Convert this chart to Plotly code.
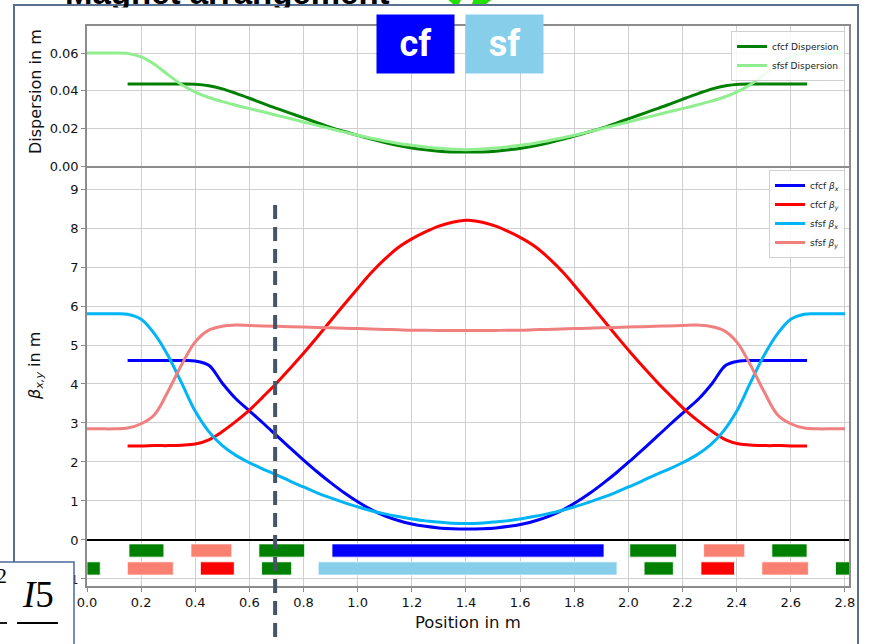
import plotly.graph_objects as go

# ---------------- data ----------------
pos_sf = [0.00, 0.05, 0.10, 0.15, 0.20, 0.25, 0.30, 0.35, 0.40, 0.45, 0.50, 0.55, 0.60, 0.65, 0.70,
          0.75, 0.80, 0.85, 0.90, 0.95, 1.00, 1.05, 1.10, 1.15, 1.20, 1.25, 1.30, 1.35, 1.40,
          1.45, 1.50, 1.55, 1.60, 1.65, 1.70, 1.75, 1.80, 1.85, 1.90, 1.95, 2.00, 2.05, 2.10,
          2.15, 2.20, 2.25, 2.30, 2.35, 2.40, 2.45, 2.50, 2.55, 2.60, 2.65, 2.70, 2.75, 2.80]
sf_disp = [0.0600, 0.0600, 0.0600, 0.0598, 0.0580, 0.0540, 0.0484, 0.0432, 0.0393, 0.0364, 0.0342,
           0.0323, 0.0305, 0.0288, 0.0270, 0.0252, 0.0234, 0.0216, 0.0198, 0.0180, 0.0163, 0.0147,
           0.0133, 0.0120, 0.0110, 0.0101, 0.0094, 0.0089, 0.0087,
           0.0089, 0.0094, 0.0101, 0.0110, 0.0120, 0.0133, 0.0147, 0.0163, 0.0180, 0.0198, 0.0216,
           0.0234, 0.0252, 0.0270, 0.0288, 0.0305, 0.0323, 0.0342, 0.0364, 0.0393, 0.0432, 0.0484,
           0.0540, 0.0580, 0.0598, 0.0600, 0.0600, 0.0600]
sf_betax = [5.80, 5.80, 5.80, 5.79, 5.66, 5.28, 4.72, 4.02, 3.30, 2.78, 2.42, 2.17, 1.98, 1.82, 1.67,
            1.51, 1.36, 1.21, 1.08, 0.96, 0.85, 0.75, 0.67, 0.60, 0.54, 0.49, 0.46, 0.43, 0.42,
            0.43, 0.46, 0.49, 0.54, 0.60, 0.67, 0.75, 0.85, 0.96, 1.08, 1.21, 1.36, 1.51, 1.67,
            1.82, 1.98, 2.17, 2.42, 2.78, 3.30, 4.02, 4.72, 5.28, 5.66, 5.79, 5.80, 5.80, 5.80]
sf_betay = [2.85, 2.85, 2.85, 2.87, 2.98, 3.22, 3.82, 4.50, 5.08, 5.38, 5.48, 5.51, 5.50, 5.49, 5.48,
            5.47, 5.46, 5.45, 5.44, 5.43, 5.42, 5.41, 5.40, 5.39, 5.38, 5.38, 5.37, 5.37, 5.37,
            5.37, 5.37, 5.38, 5.38, 5.39, 5.40, 5.41, 5.42, 5.43, 5.44, 5.45, 5.46, 5.47, 5.48,
            5.49, 5.50, 5.51, 5.48, 5.38, 5.08, 4.50, 3.82, 3.22, 2.98, 2.87, 2.85, 2.85, 2.85]

pos_cf = [0.15, 0.20, 0.25, 0.30, 0.35, 0.40, 0.45, 0.50, 0.55, 0.60, 0.65, 0.70, 0.75, 0.80, 0.85,
          0.90, 0.95, 1.00, 1.05, 1.10, 1.15, 1.20, 1.25, 1.30, 1.35, 1.40,
          1.41, 1.46, 1.51, 1.56, 1.61, 1.66, 1.71, 1.76, 1.81, 1.86, 1.91, 1.96, 2.01, 2.06, 2.11,
          2.16, 2.21, 2.26, 2.31, 2.36, 2.41, 2.46, 2.51, 2.56, 2.61, 2.66]
cf_disp = [0.0436, 0.0436, 0.0436, 0.0436, 0.0436, 0.0435, 0.0427, 0.0410, 0.0386, 0.0360, 0.0333,
           0.0306, 0.0281, 0.0256, 0.0230, 0.0205, 0.0183, 0.0163, 0.0143, 0.0125, 0.0109, 0.0096,
           0.0086, 0.0079, 0.0075, 0.0074,
           0.0074, 0.0075, 0.0079, 0.0086, 0.0096, 0.0109, 0.0125, 0.0143, 0.0163, 0.0183, 0.0205,
           0.0230, 0.0256, 0.0281, 0.0306, 0.0333, 0.0360, 0.0386, 0.0410, 0.0427, 0.0435, 0.0436,
           0.0436, 0.0436, 0.0436, 0.0436]
cf_betax = [4.60, 4.60, 4.60, 4.60, 4.60, 4.59, 4.48, 4.02, 3.62, 3.31, 3.00, 2.68, 2.36, 2.05, 1.75,
            1.47, 1.21, 0.98, 0.78, 0.62, 0.50, 0.41, 0.35, 0.31, 0.29, 0.28,
            0.28, 0.29, 0.31, 0.35, 0.41, 0.50, 0.62, 0.78, 0.98, 1.21, 1.47, 1.75, 2.05, 2.36, 2.68,
            3.00, 3.31, 3.62, 4.02, 4.48, 4.59, 4.60, 4.60, 4.60, 4.60, 4.60]
cf_betay = [2.41, 2.41, 2.42, 2.42, 2.43, 2.46, 2.57, 2.78, 3.04, 3.33, 3.67, 4.02, 4.40, 4.79, 5.20,
            5.62, 6.04, 6.45, 6.85, 7.20, 7.50, 7.72, 7.90, 8.05, 8.15, 8.20,
            8.20, 8.15, 8.05, 7.90, 7.72, 7.50, 7.20, 6.85, 6.45, 6.04, 5.62, 5.20, 4.79, 4.40, 4.02,
            3.67, 3.33, 3.04, 2.78, 2.57, 2.46, 2.43, 2.42, 2.42, 2.41, 2.41]

# magnet layout rows (start, end in m, kind)
cf_mag_start = [0.155, 0.384, 0.635, 0.905, 2.005, 2.278, 2.530]
cf_mag_end = [0.284, 0.535, 0.804, 1.910, 2.178, 2.430, 2.660]
cf_mag_kind = ["g", "s", "g", "b", "g", "s", "g"]
sf_mag_start = [0.0, 0.149, 0.419, 0.645, 0.854, 2.058, 2.268, 2.493, 2.765]
sf_mag_end = [0.049, 0.319, 0.544, 0.756, 1.958, 2.166, 2.392, 2.665, 2.85]
sf_mag_kind = ["g", "s", "r", "g", "c", "g", "r", "s", "g"]
cf_row_y = -0.27
sf_row_y = -0.73
row_height = 0.34

marker_pos = 0.695  # dashed vertical marker (m)

x_ticks = [0.0, 0.2, 0.4, 0.6, 0.8, 1.0, 1.2, 1.4, 1.6, 1.8, 2.0, 2.2, 2.4, 2.6, 2.8]

# ---------------- styles ----------------
KIND_COLOR = {"g": "#008000", "s": "#FA8072", "r": "#FF0000", "b": "#0000FF", "c": "#87CEEB"}
W, H = 871, 644
L, R, T, B = 87, 22, 26, 58
XMAX = 2.815
FONT = "DejaVu Sans"
SPINE = "#8c8c8c"
GRID = "#cfcfcf"


def px(x):
    return (x - L) / (W - L - R)


def py(y):
    return (H - B - y) / (H - T - B)


fig = go.Figure()

# dispersion (top panel)
fig.add_trace(go.Scatter(x=pos_cf, y=cf_disp, mode="lines", name="cfcf Dispersion",
                         line=dict(color="#008000", width=3, shape="spline", smoothing=0.8),
                         xaxis="x2", yaxis="y2", legend="legend"))
fig.add_trace(go.Scatter(x=pos_sf, y=sf_disp, mode="lines", name="sfsf Dispersion",
                         line=dict(color="#90EE90", width=3, shape="spline", smoothing=0.8),
                         xaxis="x2", yaxis="y2", legend="legend"))

# magnets (bottom of the beta panel)
for starts, ends, kinds, yc in [(cf_mag_start, cf_mag_end, cf_mag_kind, cf_row_y),
                                (sf_mag_start, sf_mag_end, sf_mag_kind, sf_row_y)]:
    fig.add_trace(go.Bar(orientation="h", base=starts,
                         x=[e - s for s, e in zip(starts, ends)],
                         y=[yc] * len(starts), width=row_height,
                         marker=dict(color=[KIND_COLOR[k] for k in kinds],
                                     line=dict(color="rgba(255,255,255,0.8)", width=1)),
                         showlegend=False, hoverinfo="skip", xaxis="x", yaxis="y"))

# beta functions
for xs, ys, nm, col in [(pos_cf, cf_betax, "cfcf <i>β</i><sub><i>x</i></sub>", "#0000FF"),
                        (pos_cf, cf_betay, "cfcf <i>β</i><sub><i>y</i></sub>", "#FF0000"),
                        (pos_sf, sf_betax, "sfsf <i>β</i><sub><i>x</i></sub>", "#00B4F5"),
                        (pos_sf, sf_betay, "sfsf <i>β</i><sub><i>y</i></sub>", "#F08080")]:
    fig.add_trace(go.Scatter(x=xs, y=ys, mode="lines", name=nm,
                             line=dict(color=col, width=3, shape="spline", smoothing=1.0),
                             xaxis="x", yaxis="y", legend="legend2"))

axis_common = dict(showline=True, linecolor=SPINE, linewidth=1.5,
                   showgrid=True, gridcolor=GRID, gridwidth=1,
                   ticklen=4, tickcolor=SPINE,
                   tickfont=dict(family=FONT, size=13, color="#111"))

fig.update_layout(
    width=W, height=H,
    margin=dict(l=L, r=R, t=T, b=B, pad=0),
    paper_bgcolor="white", plot_bgcolor="white",
    barmode="overlay",
    xaxis=dict(domain=[0, 1], anchor="y", range=[0, XMAX], tickvals=x_ticks,
               ticktext=[f"{v:.1f}" for v in x_ticks], zeroline=False, mirror=False,
               ticks="outside", **axis_common),
    xaxis2=dict(domain=[0, 1], anchor="y2", matches="x", range=[0, XMAX], tickvals=x_ticks,
                showticklabels=False, zeroline=False, mirror=True, ticks="", **axis_common),
    yaxis=dict(domain=[0, 0.75], anchor="x", range=[-1.18, 9.59], dtick=1, tick0=0,
               zeroline=True, zerolinecolor="black", zerolinewidth=1.5, mirror=True,
               ticks="outside", **axis_common),
    yaxis2=dict(domain=[0.75, 1], anchor="x2", range=[0, 0.0744], tickvals=[0, 0.02, 0.04, 0.06],
                tickformat=".2f", zeroline=False, mirror=True, ticks="outside", **axis_common),
    legend=dict(x=px(845), xanchor="right", y=py(31), yanchor="top",
                bgcolor="rgba(255,255,255,0.85)", bordercolor="#d0d0d0", borderwidth=1,
                font=dict(family=FONT, size=9, color="#222")),
    legend2=dict(x=px(845), xanchor="right", y=py(170), yanchor="top",
                 bgcolor="rgba(255,255,255,0.85)", bordercolor="#d0d0d0", borderwidth=1,
                 font=dict(family=FONT, size=9, color="#222")),
    showlegend=True,
)

shapes = []
# slide frame
shapes.append(dict(type="rect", xref="paper", yref="paper", x0=px(14), x1=px(858), y0=py(720), y1=py(5),
                   line=dict(color="#5a7090", width=2), fillcolor="rgba(0,0,0,0)", layer="below"))
# green tick mark (cut at top)
shapes.append(dict(type="path", xref="paper", yref="paper",
                   path=f"M {px(446)},{py(-2)} L {px(462)},{py(-2)} L {px(459)},{py(4)} L {px(453)},{py(4)} Z",
                   fillcolor="#22e000", line=dict(width=0), layer="above"))
shapes.append(dict(type="path", xref="paper", yref="paper",
                   path=f"M {px(474)},{py(-2)} L {px(494)},{py(-2)} L {px(486)},{py(4)} L {px(472)},{py(4)} Z",
                   fillcolor="#22e000", line=dict(width=0), layer="above"))
# dashed marker line
xm = marker_pos / XMAX
shapes.append(dict(type="line", xref="paper", yref="paper", x0=xm, x1=xm, y0=py(205), y1=py(660),
                   line=dict(color="#465468", width=4, dash="14px,8px"), layer="above"))
# equation box
shapes.append(dict(type="rect", xref="paper", yref="paper", x0=px(-5), x1=px(74), y0=py(680), y1=py(562),
                   line=dict(color="#4a6a9a", width=1.5), fillcolor="white", layer="above"))
shapes.append(dict(type="line", xref="paper", yref="paper", x0=px(17), x1=px(58), y0=py(623), y1=py(623),
                   line=dict(color="black", width=1.8), layer="above"))
shapes.append(dict(type="line", xref="paper", yref="paper", x0=px(-2), x1=px(7), y0=py(623), y1=py(623),
                   line=dict(color="black", width=1.8), layer="above"))
fig.update_layout(shapes=shapes)

ann = []
# slide title (cut off at top)
ann.append(dict(text="<b>Magnet arrangement</b>", xref="paper", yref="paper", x=px(227), y=py(13),
                xanchor="center", yanchor="bottom", showarrow=False,
                font=dict(family="Liberation Sans", size=33, color="black")))
ann.append(dict(text=" ", xref="paper", yref="paper", x=px(230), y=py(6.5), xanchor="center", yanchor="top",
                width=380, height=15, bgcolor="white", showarrow=False, borderpad=0))
# cf / sf boxes
ann.append(dict(text="<b>cf</b>", xref="paper", yref="paper", x=px(415.5), y=py(44), showarrow=False,
                width=77, height=58, bgcolor="#0000FF", borderpad=0, xanchor="center", yanchor="middle",
                font=dict(family="Roboto", size=36, color="white")))
ann.append(dict(text="<b>sf</b>", xref="paper", yref="paper", x=px(504), y=py(44), showarrow=False,
                width=77, height=58, bgcolor="#87CEEB", borderpad=0, xanchor="center", yanchor="middle",
                font=dict(family="Roboto", size=36, color="white")))
# axis titles
ann.append(dict(text="Dispersion in m", xref="paper", yref="paper", x=px(35), y=py(92), textangle=-90,
                showarrow=False, xanchor="center", yanchor="middle",
                font=dict(family=FONT, size=16, color="#111")))
ann.append(dict(text="<i>β</i><sub><i>x,y</i></sub> in m", xref="paper", yref="paper", x=px(35), y=py(366),
                textangle=-90, showarrow=False, xanchor="center", yanchor="middle",
                font=dict(family=FONT, size=16, color="#111")))
ann.append(dict(text="Position in m", xref="paper", yref="paper", x=0.5, y=py(622), showarrow=False,
                xanchor="center", yanchor="middle", font=dict(family=FONT, size=16.5, color="#111")))
# equation fragment
ann.append(dict(text="2", xref="paper", yref="paper", x=px(1), y=py(575), showarrow=False,
                xanchor="center", yanchor="middle", font=dict(family="Liberation Serif", size=22, color="black")))
ann.append(dict(text="<i>I</i>5", xref="paper", yref="paper", x=px(38), y=py(594), showarrow=False,
                xanchor="center", yanchor="middle", font=dict(family="Liberation Serif", size=37, color="black")))
ann.append(dict(text="<i>I</i>2", xref="paper", yref="paper", x=px(38), y=py(657), showarrow=False,
                xanchor="center", yanchor="middle", font=dict(family="Liberation Serif", size=37, color="black")))
fig.update_layout(annotations=ann)

fig.write_html("out.html", config={"displayModeBar": False},
               post_script="document.body.style.margin='0';")
